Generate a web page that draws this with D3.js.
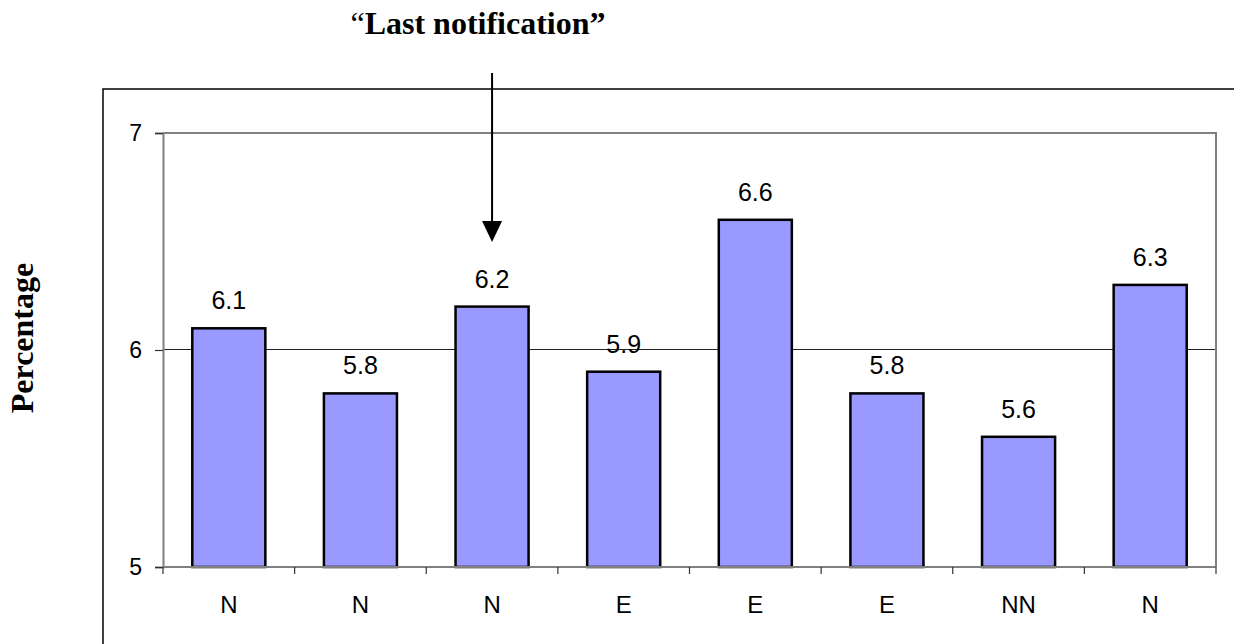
<!DOCTYPE html>
<html>
<head>
<meta charset="utf-8">
<script src="https://cdn.jsdelivr.net/npm/d3@7"></script>
<style>
  html, body { margin: 0; padding: 0; background: #fff; }
  svg { display: block; }
</style>
</head>
<body>
<svg id="chart" width="1234" height="644"></svg>
<script>
const categories = ["N", "N", "N", "E", "E", "E", "NN", "N"];
const values = [6.1, 5.8, 6.2, 5.9, 6.6, 5.8, 5.6, 6.3];
const yTicks = [5, 6, 7];
const yDomain = [5, 7];
const titleText = "Last notification";
const yTitle = "Percentage";
const arrowIndex = 2;

const svg = d3.select("#chart");
const plot = { left: 163, right: 1216, top: 133, bottom: 567 };

const x = d3.scaleBand()
  .domain(d3.range(categories.length))
  .range([plot.left, plot.right])
  .paddingInner(0.445)
  .paddingOuter(0.2225);
const step = x.step();

const y = d3.scaleLinear().domain(yDomain).range([plot.bottom, plot.top]);

// outer frame
svg.append("rect")
  .attr("x", 103).attr("y", 89)
  .attr("width", 1300).attr("height", 700)
  .attr("fill", "none").attr("stroke", "#000").attr("stroke-width", 1.5);

// gridlines (inner)
svg.append("g").selectAll("line")
  .data(yTicks.filter(t => t > yDomain[0] && t < yDomain[1]))
  .join("line")
  .attr("x1", plot.left).attr("x2", plot.right)
  .attr("y1", d => y(d) - 0.5).attr("y2", d => y(d) - 0.5)
  .attr("stroke", "#222").attr("stroke-width", 1)
  .attr("shape-rendering", "crispEdges");

// plot border top & right
svg.append("path")
  .attr("d", `M${plot.left},${y(yDomain[1])}H${plot.right}V${plot.bottom}`)
  .attr("fill", "none").attr("stroke", "#808080").attr("stroke-width", 2);

// bars
svg.append("g").selectAll("rect")
  .data(values)
  .join("rect")
  .attr("x", (d, i) => x(i))
  .attr("y", d => y(d))
  .attr("width", x.bandwidth())
  .attr("height", d => y(yDomain[0]) - y(d))
  .attr("fill", "#9999FF")
  .attr("stroke", "#000")
  .attr("stroke-width", 2.5);

// y axis
const yAxis = d3.axisLeft(y).tickValues(yTicks).tickSize(8).tickPadding(13).tickFormat(d3.format("d"));
const gy = svg.append("g").attr("transform", `translate(${plot.left},0)`).call(yAxis);
gy.select(".domain").attr("stroke", "#808080").attr("stroke-width", 2);
gy.selectAll(".tick line").attr("stroke", "#333").attr("stroke-width", 1.2);
gy.selectAll("text")
  .attr("font-family", "Liberation Sans, Arial, sans-serif")
  .attr("font-size", 23).attr("fill", "#000");

// x axis with ticks at category boundaries
const gx = svg.append("g").attr("transform", `translate(0,${plot.bottom})`);
gx.append("line")
  .attr("x1", plot.left).attr("x2", plot.right)
  .attr("stroke", "#808080").attr("stroke-width", 2);
gx.selectAll("line.tk")
  .data(d3.range(categories.length + 1))
  .join("line").attr("class", "tk")
  .attr("x1", i => plot.left + i * step).attr("x2", i => plot.left + i * step)
  .attr("y1", 0).attr("y2", 7)
  .attr("stroke", "#333").attr("stroke-width", 1.2);
gx.selectAll("text")
  .data(categories)
  .join("text")
  .attr("x", (d, i) => x(i) + x.bandwidth() / 2)
  .attr("y", 46)
  .attr("text-anchor", "middle")
  .attr("font-family", "Liberation Sans, Arial, sans-serif")
  .attr("font-size", 24)
  .text(d => d);

// value labels
svg.append("g").selectAll("text")
  .data(values)
  .join("text")
  .attr("x", (d, i) => x(i) + x.bandwidth() / 2)
  .attr("y", d => y(d) - 19)
  .attr("text-anchor", "middle")
  .attr("font-family", "Liberation Sans, Arial, sans-serif")
  .attr("font-size", 25)
  .text(d => d3.format(".1f")(d));

// y title
svg.append("text")
  .attr("transform", "translate(33,338) rotate(-90)")
  .attr("text-anchor", "middle")
  .attr("font-family", "Liberation Serif, Times New Roman, serif")
  .attr("font-weight", "bold")
  .attr("font-size", 32)
  .text(yTitle);

// title
const t = svg.append("text")
  .attr("x", 478).attr("y", 34)
  .attr("text-anchor", "middle")
  .attr("font-family", "Liberation Serif, Times New Roman, serif")
  .attr("font-size", 32);
t.append("tspan").attr("font-weight", "normal").text("\u201C");
t.append("tspan").attr("font-weight", "bold").text(titleText + "\u201D");

// arrow
const ax = x(arrowIndex) + x.bandwidth() / 2;
svg.append("line")
  .attr("x1", ax).attr("x2", ax)
  .attr("y1", 73).attr("y2", 222)
  .attr("stroke", "#000").attr("stroke-width", 2);
svg.append("path")
  .attr("d", `M${ax - 10},221L${ax + 10},221L${ax},242Z`)
  .attr("fill", "#000");
</script>
</body>
</html>
